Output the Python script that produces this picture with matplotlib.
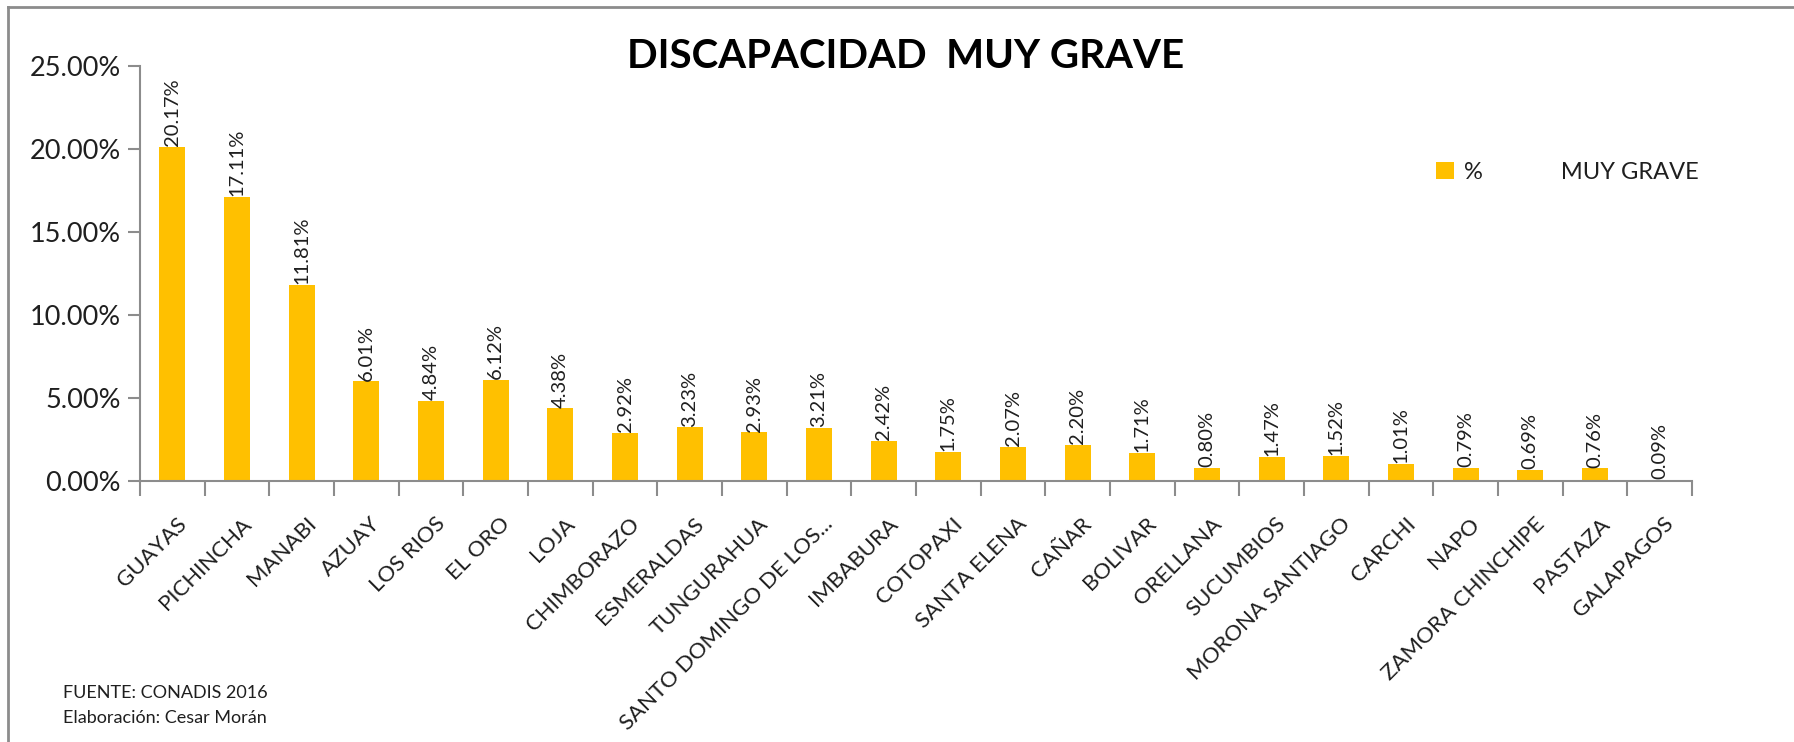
import matplotlib
matplotlib.use("Agg")
import matplotlib.pyplot as plt
from matplotlib.ticker import FuncFormatter
from matplotlib.lines import Line2D
from matplotlib.transforms import ScaledTranslation

provincias = ["GUAYAS", "PICHINCHA", "MANABI", "AZUAY", "LOS RIOS", "EL ORO", "LOJA",
              "CHIMBORAZO", "ESMERALDAS", "TUNGURAHUA", "SANTO DOMINGO DE LOS...",
              "IMBABURA", "COTOPAXI", "SANTA ELENA", "CAÑAR", "BOLIVAR", "ORELLANA",
              "SUCUMBIOS", "MORONA SANTIAGO", "CARCHI", "NAPO", "ZAMORA CHINCHIPE",
              "PASTAZA", "GALAPAGOS"]
porcentajes = [20.17, 17.11, 11.81, 6.01, 4.84, 6.12, 4.38, 2.92, 3.23, 2.93, 3.21,
               2.42, 1.75, 2.07, 2.20, 1.71, 0.80, 1.47, 1.52, 1.01, 0.79, 0.69,
               0.76, 0.09]
y_ticks = [0, 5, 10, 15, 20, 25]

titulo = "DISCAPACIDAD  MUY GRAVE"
serie = "%             MUY GRAVE"
nota1 = "FUENTE: CONADIS 2016"
nota2 = "Elaboración: Cesar Morán"

plt.rcParams['font.family'] = ['Lato', 'DejaVu Sans']
TXT = '#1f1f1f'
GRAY = '#8c8c8c'
BAR = '#FFC000'

W, H = 1794, 742
fig = plt.figure(figsize=(W / 100, H / 100), dpi=100)
fig.patch.set_facecolor('white')

ax = fig.add_axes([140 / W, 1 - 481 / H, (1692 - 140) / W, (481 - 66.5) / H])
x = list(range(len(provincias)))
bars = ax.bar(x, porcentajes, width=0.4, color=BAR, label=serie, zorder=2)

ax.set_xlim(-0.5, len(provincias) - 0.5)
ax.set_ylim(0, 25)
ax.set_yticks(y_ticks)
ax.yaxis.set_major_formatter(FuncFormatter(lambda v, p: f"{v:.2f}%"))
ax.tick_params(axis='y', length=9, width=1.5, color=GRAY, labelsize=19.5,
               labelcolor=TXT, pad=5)

# category ticks between bars
ax.set_xticks([i - 0.5 for i in range(len(provincias) + 1)], minor=False)
ax.set_xticklabels([])
ax.tick_params(axis='x', which='major', length=11, width=1.5, color=GRAY)
ax.set_xticks(x, minor=True)
labels = ax.set_xticklabels(provincias, minor=True, rotation=45, ha='right',
                            rotation_mode='anchor', fontsize=16, color=TXT)
ax.tick_params(axis='x', which='minor', length=0, pad=23.5)
shift = ScaledTranslation(4 / 100, 0, fig.dpi_scale_trans)
for lab in ax.get_xticklabels(minor=True):
    lab.set_transform(lab.get_transform() + shift)

for s in ['top', 'right']:
    ax.spines[s].set_visible(False)
for s in ['left', 'bottom']:
    ax.spines[s].set_color(GRAY)
    ax.spines[s].set_linewidth(1.5)

for xi, v in zip(x, porcentajes):
    ax.text(xi, v + 0.05, f"{v:.2f}%", rotation=90, ha='center', va='bottom',
            fontsize=14.5, color=TXT, zorder=3)

fig.text(906 / W, 1 - 57 / H, titulo, ha='center', va='center',
         fontsize=29, fontweight='bold', color='black')

leg = ax.legend(loc='upper left', bbox_to_anchor=((1436 - 140) / (1692 - 140),
                (481 - 162) / (481 - 66.5)), frameon=False, fontsize=17,
                handlelength=0.75, handleheight=0.75, handletextpad=0.45,
                borderaxespad=0, borderpad=0)
for t in leg.get_texts():
    t.set_color(TXT)

fig.text(63 / W, 1 - 698 / H, nota1, ha='left', va='baseline', fontsize=13, color=TXT)
fig.text(63 / W, 1 - 723 / H, nota2, ha='left', va='baseline', fontsize=13, color=TXT)

# outer frame (top and left edges visible)
fig.add_artist(Line2D([8 / W, 8 / W], [0, 1 - 7 / H], transform=fig.transFigure,
                      color=GRAY, lw=2))
fig.add_artist(Line2D([8 / W, 1], [1 - 7 / H, 1 - 7 / H], transform=fig.transFigure,
                      color=GRAY, lw=2))

fig.savefig("out.png", dpi=100, facecolor='white')
